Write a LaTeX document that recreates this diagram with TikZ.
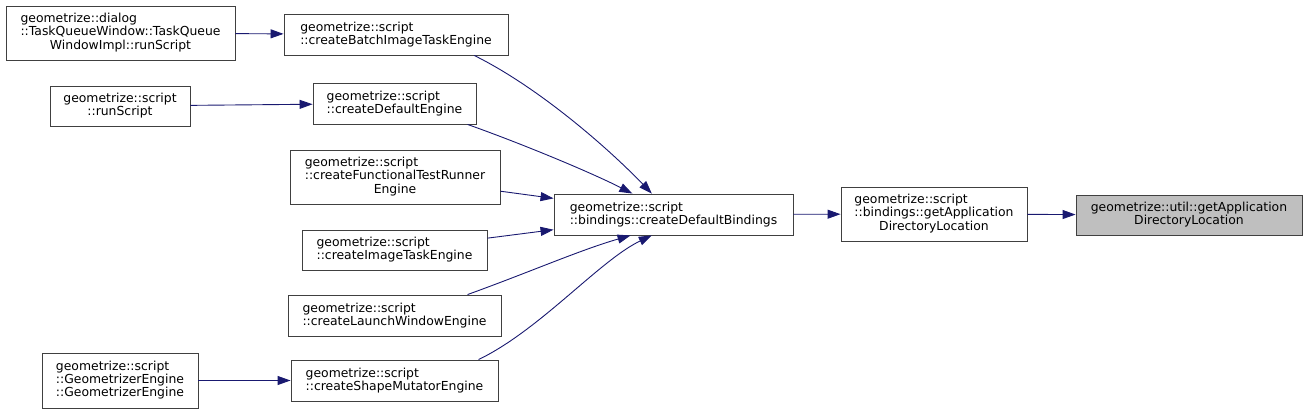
\documentclass[tikz,border=0pt]{standalone}
\usepackage{fontspec}
\setmainfont{DejaVu Sans}
\usetikzlibrary{arrows.meta}
\definecolor{edgeblue}{HTML}{191970}
\definecolor{focusgrey}{HTML}{BFBFBF}

\begin{document}
\begin{tikzpicture}[x=1pt,y=-1pt,
    fn/.style={draw=black!75,line width=0.9pt,fill=white,inner sep=2pt,
      font=\fontsize{12.4}{13}\selectfont},
    call/.style={edgeblue,line width=0.9pt,-{Triangle[length=13pt,width=9pt]}}]
    \useasboundingbox (0,0) rectangle (1308,415);

    % Outer callers
    \node[fn,minimum width=229,minimum height=54] (dlg) at (120.5,33)
      {\begin{tabular}{@{}l@{}}geometrize::dialog\\::TaskQueueWindow::TaskQueue\\\multicolumn{1}{@{}c@{}}{WindowImpl::runScript}\end{tabular}};
    \node[fn,minimum width=140,minimum height=40,align=center] (run) at (120,106)
      {geometrize::script\\::runScript};
    \node[fn,minimum width=156,minimum height=55,align=left] (geo) at (120,380.5)
      {geometrize::script\\::GeometrizerEngine\\::GeometrizerEngine};

    % Engine factories
    \node[fn,minimum width=224,minimum height=41,align=left] (batch) at (396,34.5)
      {geometrize::script\\::createBatchImageTaskEngine};
    \node[fn,minimum width=163,minimum height=41,align=left] (dflt) at (394.5,103.5)
      {geometrize::script\\::createDefaultEngine};
    \node[fn,minimum width=210,minimum height=54] (func) at (395,177)
      {\begin{tabular}{@{}l@{}}geometrize::script\\::createFunctionalTestRunner\\\multicolumn{1}{@{}c@{}}{Engine}\end{tabular}};
    \node[fn,minimum width=185,minimum height=40,align=left] (img) at (394.5,250)
      {geometrize::script\\::createImageTaskEngine};
    \node[fn,minimum width=213,minimum height=41,align=left] (launch) at (394.5,315.5)
      {geometrize::script\\::createLaunchWindowEngine};
    \node[fn,minimum width=207,minimum height=41,align=left] (shape) at (394.5,380.5)
      {geometrize::script\\::createShapeMutatorEngine};

    % Bindings and target
    \node[fn,minimum width=239,minimum height=41,align=left] (bind) at (673.5,214.5)
      {geometrize::script\\::bindings::createDefaultBindings};
    \node[fn,minimum width=186,minimum height=54] (appdir) at (934,214)
      {\begin{tabular}{@{}l@{}}geometrize::script\\::bindings::getApplication\\\multicolumn{1}{@{}c@{}}{DirectoryLocation}\end{tabular}};
    \node[fn,fill=focusgrey,minimum width=226,minimum height=40,align=center] (util) at (1189,215)
      {geometrize::util::getApplication\\DirectoryLocation};

    % Calls
    \draw[call] (dlg) -- (batch);
    \draw[call] (run) -- (dflt);
    \draw[call] (geo) -- (shape);
    \draw[call] (batch.-15) .. controls (540,88) and (610,150) .. (bind.136);
    \draw[call] (dflt.-16) .. controls (520,143) and (590,172) .. (bind.153);
    \draw[call] (func) -- (bind);
    \draw[call] (img) -- (bind);
    \draw[call] (launch.16) .. controls (530,272) and (580,250) .. (bind.206);
    \draw[call] (shape.14) .. controls (540,330) and (600,260) .. (bind.224);
    \draw[call] (bind) -- (appdir);
    \draw[call] (appdir) -- (util);
\end{tikzpicture}
\end{document}
